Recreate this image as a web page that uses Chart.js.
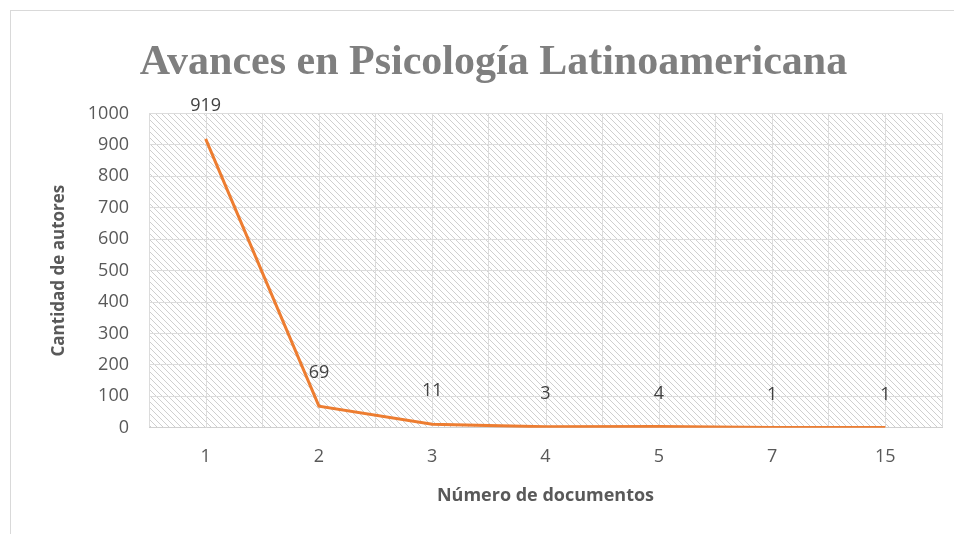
<!DOCTYPE html>
<html>
<head>
<meta charset="utf-8">
<script src="https://cdn.jsdelivr.net/npm/chart.js@4.4.1/dist/chart.umd.min.js"></script>
<style>
  html, body { margin: 0; padding: 0; background: #fff; }
  #frame { position: absolute; left: 10px; top: 10px; width: 960px; height: 540px;
           border-top: 1px solid #d9d9d9; border-left: 1px solid #d9d9d9; }
  #wrap { position: absolute; left: 0; top: 0; width: 954px; height: 534px; }
</style>
</head>
<body>
<div id="frame"></div>
<div id="wrap"><canvas id="chart"></canvas></div>
<script>
const docCounts = ['1', '2', '3', '4', '5', '7', '15'];
const authorCounts = [919, 69, 11, 3, 4, 1, 1];
const yTicks = [0, 100, 200, 300, 400, 500, 600, 700, 800, 900, 1000];

const tickFont = { family: "'Open Sans', 'Liberation Sans', sans-serif", size: 18 };

// diagonal hatch behind the plot area
function makeHatch(ctx) {
  const c = document.createElement('canvas');
  c.width = 6; c.height = 6;
  const g = c.getContext('2d');
  g.strokeStyle = '#cfcfcf';
  g.lineWidth = 1;
  g.beginPath();
  g.moveTo(-1, -1); g.lineTo(7, 7);
  g.moveTo(-7, -1); g.lineTo(1, 7);
  g.moveTo(5, -1); g.lineTo(13, 7);
  g.stroke();
  return ctx.createPattern(c, 'repeat');
}

const hatchPlugin = {
  id: 'hatch',
  beforeDraw(chart) {
    const { ctx, chartArea: a } = chart;
    ctx.save();
    ctx.fillStyle = makeHatch(ctx);
    ctx.fillRect(a.left, a.top, a.right - a.left, a.bottom - a.top);
    ctx.restore();
  }
};

// extra vertical lines at the category centres
const centreLines = {
  id: 'centreLines',
  beforeDatasetsDraw(chart) {
    const { ctx, chartArea: a, scales: { x } } = chart;
    ctx.save();
    ctx.strokeStyle = '#dcdcdc';
    ctx.lineWidth = 1;
    docCounts.forEach((_, i) => {
      const px = Math.round(x.getPixelForTick(i)) + 0.5;
      ctx.beginPath();
      ctx.moveTo(px, a.top);
      ctx.lineTo(px, a.bottom);
      ctx.stroke();
    });
    ctx.restore();
  }
};

const valueLabels = {
  id: 'valueLabels',
  afterDatasetsDraw(chart) {
    const { ctx } = chart;
    const meta = chart.getDatasetMeta(0);
    ctx.save();
    ctx.font = "18px 'Open Sans', 'Liberation Sans', sans-serif";
    ctx.fillStyle = '#404040';
    ctx.textAlign = 'center';
    ctx.textBaseline = 'middle';
    meta.data.forEach((pt, i) => {
      ctx.fillText(String(authorCounts[i]), pt.x, pt.y - 33);
    });
    ctx.restore();
  }
};

new Chart(document.getElementById('chart'), {
  type: 'line',
  data: {
    labels: docCounts,
    datasets: [{
      data: authorCounts,
      borderColor: '#ed7d31',
      borderWidth: 3,
      pointRadius: 0,
      tension: 0,
      fill: false
    }]
  },
  options: {
    responsive: true,
    maintainAspectRatio: false,
    animation: false,
    layout: { padding: { left: 45, right: 12, top: 0, bottom: 23 } },
    plugins: {
      legend: { display: false },
      tooltip: { enabled: false },
      title: {
        display: true,
        text: 'Avances en Psicología Latinoamericana',
        color: '#7f7f7f',
        font: { family: "'Liberation Serif', 'DejaVu Serif', serif", size: 42, weight: 'bold' },
        padding: { top: 38, bottom: 25 }
      }
    },
    scales: {
      x: {
        offset: true,
        grid: { color: '#dcdcdc', offset: true, drawTicks: false },
        border: { color: '#d0d0d0' },
        ticks: { color: '#595959', font: tickFont, padding: 18 },
        title: {
          display: true,
          text: 'Número de documentos',
          color: '#595959',
          font: { family: tickFont.family, size: 18, weight: 'bold' },
          padding: { top: 0 }
        }
      },
      y: {
        min: 0,
        max: 1000,
        afterBuildTicks(scale) { scale.ticks = yTicks.map(v => ({ value: v })); },
        grid: { color: '#dcdcdc', drawTicks: false },
        border: { display: false },
        ticks: { color: '#595959', font: tickFont, padding: 20, callback: v => String(v) },
        title: {
          display: true,
          text: 'Cantidad de autores',
          color: '#595959',
          font: { family: tickFont.family, size: 17, weight: 'bold' },
          padding: { bottom: 6 }
        },
        afterFit(scale) { scale.width = 104; }
      }
    }
  },
  plugins: [hatchPlugin, centreLines, valueLabels]
});
</script>
</body>
</html>
